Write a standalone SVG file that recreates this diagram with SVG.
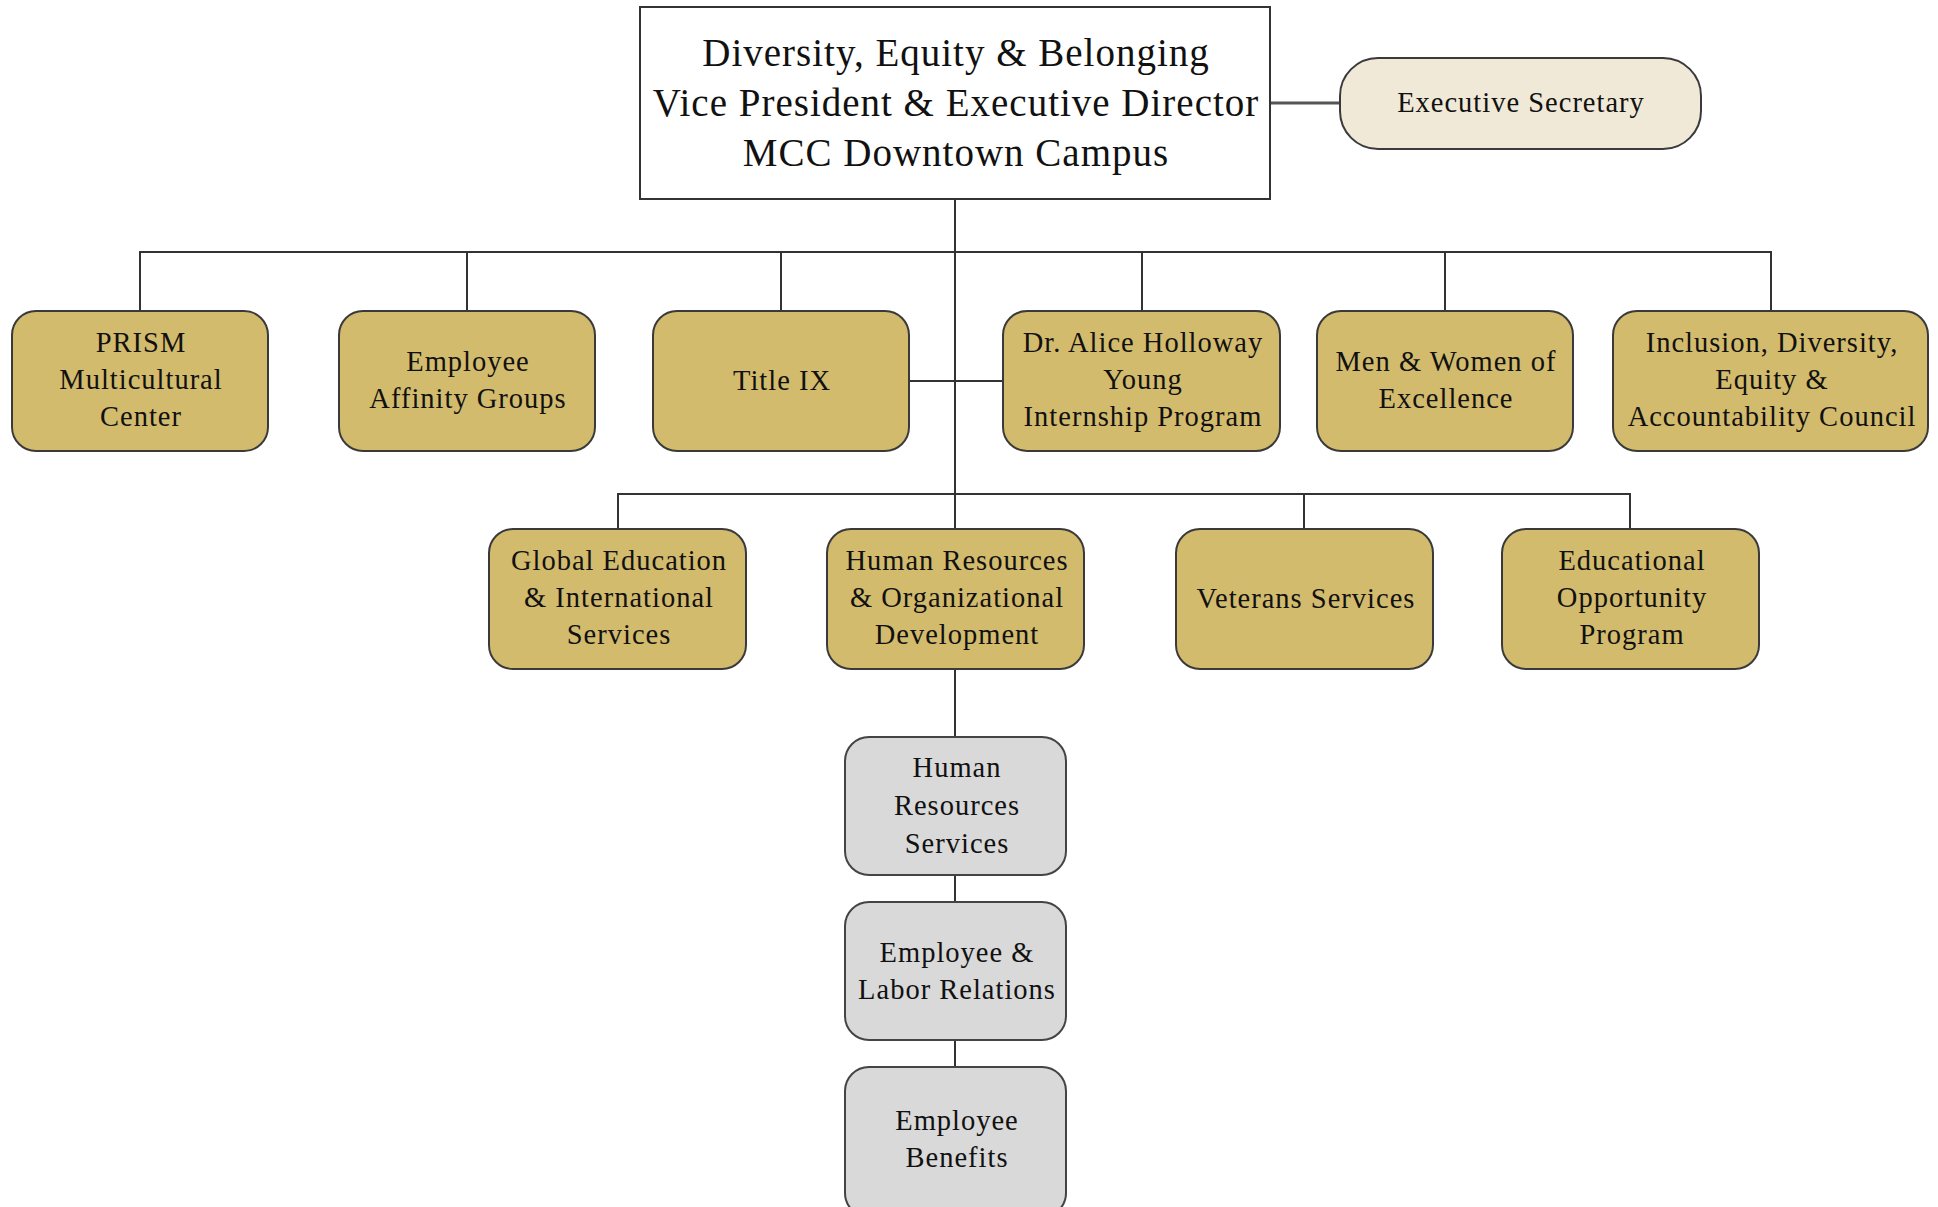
<svg xmlns="http://www.w3.org/2000/svg" width="1938" height="1207" viewBox="0 0 1938 1207">
<style>
.t{font-family:"Liberation Serif","Times New Roman",serif;fill:#111;text-anchor:middle}
.b{font-size:28.5px;letter-spacing:1px}
.h{font-size:39px;letter-spacing:1px}
.gold{fill:#D3BB6D;stroke:#3a3a3a;stroke-width:2}
.gray{fill:#D9D9D9;stroke:#444;stroke-width:2}
.c{fill:none;stroke:#333;stroke-width:2}
</style>
<rect width="1938" height="1207" fill="#fff"/>
<g id="connectors">
<line class="c" x1="1270" y1="103" x2="1340" y2="103" style="stroke-width:3;stroke:#555"/>
<line class="c" x1="955" y1="199" x2="955" y2="529"/>
<polyline class="c" points="140,311 140,252 1771,252 1771,311"/>
<line class="c" x1="467" y1="252" x2="467" y2="311"/>
<line class="c" x1="781" y1="252" x2="781" y2="311"/>
<line class="c" x1="1142" y1="252" x2="1142" y2="311"/>
<line class="c" x1="1445" y1="252" x2="1445" y2="311"/>
<line class="c" x1="909" y1="381" x2="1003" y2="381"/>
<polyline class="c" points="618,529 618,494 1630,494 1630,529"/>
<line class="c" x1="1304" y1="494" x2="1304" y2="529"/>
<line class="c" x1="955" y1="669" x2="955" y2="737"/>
<line class="c" x1="955" y1="875" x2="955" y2="902"/>
<line class="c" x1="955" y1="1040" x2="955" y2="1067"/>
</g>
<g id="vp">
<rect x="640" y="7" width="630" height="192" fill="#fff" stroke="#333" stroke-width="2"/>
<text class="t h" x="956" y="66">Diversity, Equity &amp; Belonging</text>
<text class="t h" x="956" y="116">Vice President &amp; Executive Director</text>
<text class="t h" x="956" y="166">MCC Downtown Campus</text>
</g>
<g id="exec-sec">
<rect x="1340" y="58" width="361" height="91" rx="38" ry="38" fill="#F0E9D8" stroke="#3a3a3a" stroke-width="2"/>
<text class="t b" x="1521" y="112">Executive Secretary</text>
</g>
<g id="prism">
<rect class="gold" x="12" y="311" width="256" height="140" rx="24"/>
<text class="t b" x="141" y="352">PRISM</text>
<text class="t b" x="141" y="389">Multicultural</text>
<text class="t b" x="141" y="426">Center</text>
</g>
<g id="affinity">
<rect class="gold" x="339" y="311" width="256" height="140" rx="24"/>
<text class="t b" x="468" y="371">Employee</text>
<text class="t b" x="468" y="408">Affinity Groups</text>
</g>
<g id="title-ix">
<rect class="gold" x="653" y="311" width="256" height="140" rx="24"/>
<text class="t b" x="782" y="390">Title IX</text>
</g>
<g id="holloway">
<rect class="gold" x="1003" y="311" width="277" height="140" rx="24"/>
<text class="t b" x="1143" y="352">Dr. Alice Holloway</text>
<text class="t b" x="1143" y="389">Young</text>
<text class="t b" x="1143" y="426">Internship Program</text>
</g>
<g id="men-women">
<rect class="gold" x="1317" y="311" width="256" height="140" rx="24"/>
<text class="t b" x="1446" y="371">Men &amp; Women of</text>
<text class="t b" x="1446" y="408">Excellence</text>
</g>
<g id="idea-council">
<rect class="gold" x="1613" y="311" width="315" height="140" rx="24"/>
<text class="t b" x="1772" y="352">Inclusion, Diversity,</text>
<text class="t b" x="1772" y="389">Equity &amp;</text>
<text class="t b" x="1772" y="426">Accountability Council</text>
</g>
<g id="global-ed">
<rect class="gold" x="489" y="529" width="257" height="140" rx="24"/>
<text class="t b" x="619" y="570">Global Education</text>
<text class="t b" x="619" y="607">&amp; International</text>
<text class="t b" x="619" y="644">Services</text>
</g>
<g id="hr-od">
<rect class="gold" x="827" y="529" width="257" height="140" rx="24"/>
<text class="t b" x="957" y="570">Human Resources</text>
<text class="t b" x="957" y="607">&amp; Organizational</text>
<text class="t b" x="957" y="644">Development</text>
</g>
<g id="veterans">
<rect class="gold" x="1176" y="529" width="257" height="140" rx="24"/>
<text class="t b" x="1306" y="608">Veterans Services</text>
</g>
<g id="eop">
<rect class="gold" x="1502" y="529" width="257" height="140" rx="24"/>
<text class="t b" x="1632" y="570">Educational</text>
<text class="t b" x="1632" y="607">Opportunity</text>
<text class="t b" x="1632" y="644">Program</text>
</g>
<g id="hr-services">
<rect class="gray" x="845" y="737" width="221" height="138" rx="24"/>
<text class="t b" x="957" y="777">Human</text>
<text class="t b" x="957" y="815">Resources</text>
<text class="t b" x="957" y="853">Services</text>
</g>
<g id="labor-relations">
<rect class="gray" x="845" y="902" width="221" height="138" rx="24"/>
<text class="t b" x="957" y="962">Employee &amp;</text>
<text class="t b" x="957" y="999">Labor Relations</text>
</g>
<g id="benefits">
<rect class="gray" x="845" y="1067" width="221" height="150" rx="24"/>
<text class="t b" x="957" y="1130">Employee</text>
<text class="t b" x="957" y="1167">Benefits</text>
</g>
</svg>
